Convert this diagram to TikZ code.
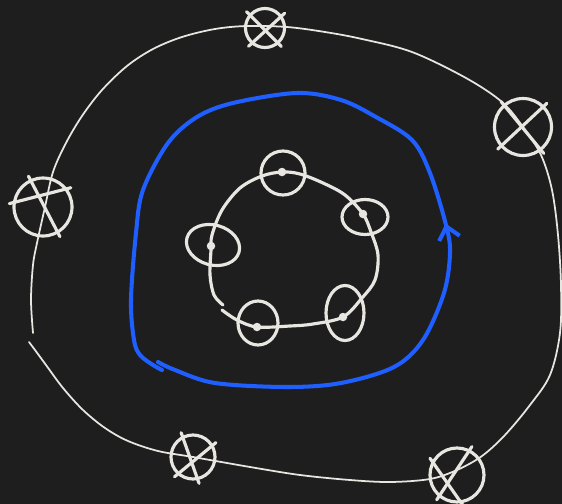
\documentclass[tikz,border=0pt]{standalone}
\usepackage{xcolor}
\usepackage{tikz}
\usetikzlibrary{shapes.geometric, arrows.meta, decorations.markings}
\definecolor{skbg}{HTML}{1E1E1E}
\definecolor{skchalk}{HTML}{E8E6E1}
\definecolor{skblue}{HTML}{1F5EFF}

\begin{document}
\begin{tikzpicture}[x=0.02cm, y=-0.02cm]
  \tikzset{
    xring/.style={circle, draw=skchalk, line width=1.8pt, inner sep=0pt, minimum size=#1},
    xbar/.style={draw=skchalk, line width=1.8pt, line cap=round, shorten <=-2pt, shorten >=-2pt},
    orbit/.style={ellipse, draw=skchalk, line width=1.8pt, inner sep=0pt},
    spot/.style={circle, fill=skchalk, inner sep=0pt, minimum size=0.17cm},
    wire/.style={draw=skchalk, line width=1pt, line cap=round, line join=round},
  }
  \fill[skbg] (0,0) rectangle (562,504);
  \useasboundingbox (0,0) rectangle (562,504);

  % outer ring with the crossed circles
  \draw[wire] plot[smooth, tension=0.55] coordinates {
    (33,333) (31,300) (33,265) (37,243) (45,207) (53,172) (66,143) (82,116)
    (102,90) (127,66) (153,49) (182,37) (215,29) (247,26) (287,27) (325,32)
    (362,39) (412,52) (466,78) (502,102) (523,127) (541,155) (552,190)
    (558,235) (561,285) (560,333) (550,375) (530,405) (505,435) (482,456)
    (457,470) (430,479) (390,482) (350,480) (300,475) (250,467) (193,457)
    (158,451) (128,441) (105,428) (83,410) (63,388) (46,365) (35,350) (29,342)};

  \node[xring=0.78cm] (xt)  at (265,28)  {};
  \node[xring=1.14cm] (xr)  at (523,127) {};
  \node[xring=1.16cm] (xl)  at (43,207)  {};
  \node[xring=0.88cm] (xb)  at (193,457) {};
  \node[xring=1.08cm] (xbr) at (457,475) {};

  \draw[xbar] (xt.139) -- (xt.-49);   \draw[xbar] (xt.36) -- (xt.229);
  \draw[xbar] (xr.131) -- (xr.-52);   \draw[xbar] (xr.45) -- (xr.221);
  \draw[xbar] (xl.172) -- (xl.37);    \draw[xbar] (xl.115) -- (xl.-60);
  \draw[xbar] (xb.117) -- (xb.-78);   \draw[xbar] (xb.31) -- (xb.228);
  \draw[xbar] (xbr.63) -- (xbr.230);  \draw[xbar] (xbr.151) -- (xbr.-81);

  % blue loop
  \draw[skblue, line width=2.3pt, line cap=round, line join=round,
        postaction={decorate, decoration={markings,
          mark=at position 0.40 with {\arrow{Straight Barb[length=7pt, width=12pt]}}}}]
    plot[smooth, tension=0.55] coordinates {
    (158,362) (175,370) (215,383) (287,387) (341,383) (394,367) (423,340)
    (444,293) (450,253) (446,225) (430,173) (412,140) (376,117) (341,100)
    (297,93) (233,103) (197,117) (168,143) (143,190) (136,233) (131,300)
    (134,340) (140,355) (153,365) (162,370)};

  % inner ring with the dots
  \draw[skchalk, line width=1.8pt, line cap=round] plot[smooth, tension=0.55] coordinates {
    (222,310) (237,320) (257,327) (290,326) (313,324) (343,317) (362,298)
    (375,280) (378,255) (371,232) (363,214) (345,195) (323,183) (300,174)
    (282,172) (262,176) (240,188) (222,210) (212,235) (211,250) (210,275)
    (214,295) (223,305)};

  \node[orbit, minimum width=0.88cm, minimum height=0.88cm] (o1) at (283,173) {};
  \node[orbit, minimum width=0.92cm, minimum height=0.70cm] (o2) at (365,217) {};
  \node[orbit, minimum width=1.08cm, minimum height=0.80cm, rotate=-15] (o3) at (213,245) {};
  \node[orbit, minimum width=0.80cm, minimum height=0.88cm] (o4) at (258,323) {};
  \node[orbit, minimum width=0.76cm, minimum height=1.10cm] (o5) at (345,313) {};

  \node[spot] (d1) at (282,172) {};
  \node[spot] (d2) at (363,214) {};
  \node[spot] (d3) at (211,246) {};
  \node[spot] (d4) at (257,327) {};
  \node[spot] (d5) at (343,317) {};
\end{tikzpicture}
\end{document}
